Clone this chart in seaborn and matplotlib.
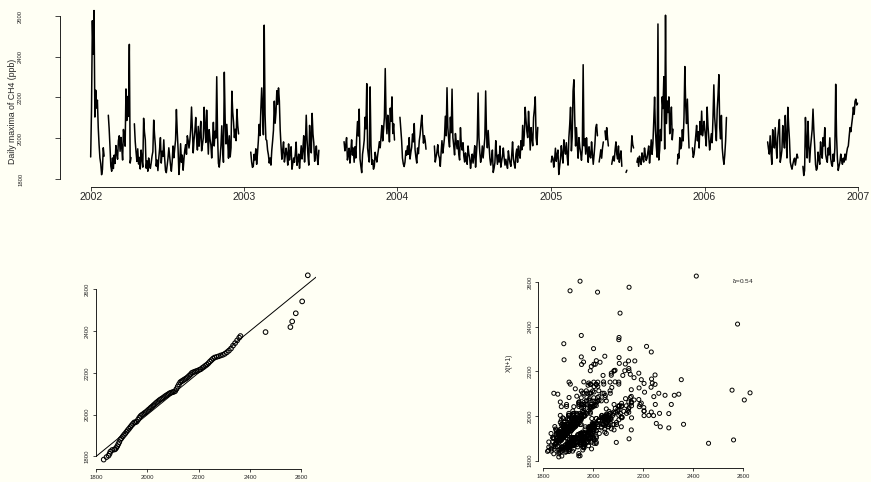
import numpy as np
import pandas as pd
import matplotlib
matplotlib.use("Agg")
import matplotlib.pyplot as plt
import matplotlib.dates as mdates
import seaborn as sns

nan = float("nan")

# Daily maxima of CH4 (ppb), read every 2 days, one list per year (nan = no data)
ch4_2002 = [1908, 2143, 2577, 2412, 2627, 2104, 2236, 2148, 2187, 2052, 1968, 1903, 1874, 1821, 1846,
            1953, 1912, nan, nan, nan, nan, 2113, 2046, 1957, 1862, 1838, 1903,
            1851, 1917, 1876, 1964, 1926, 1897, 1988, 2012, 1936, 2004, 1951, 1893,
            2043, 1998, 1961, 2242, 2087, 2205, 2107, 2461, 1878, 1905, nan, nan,
            nan, 2071, 1984, 1932, 1886, 1948, 1873, 1906, 1849, 1942, 1897, 1858,
            2098, 2031, 1993, 1853, 1889, 1838, 1903, 1867, 1852, 1879, 1912, 1934,
            2089, 2017, 1962, 1863, 1893, 1841, 1902, 1947, 2003, 1878, 1936, 1911,
            1992, 1903, 1842, 1831, 1866, 1902, 1953, 1911, 1868, 1838, 1886, 1962,
            1904, 1949, 1991, 2141, 2032, 1947, 1822, 1884, 1973, 1882, 1917, 1843,
            1898, 1943, 1968, 1921, 2012, 1989, 1952, 1988, 2041, 2153, 2046, 1928,
            1993, 2036, 2102, 2003, 1942, 2058, 1961, 2017, 2083, 1938, 1967, 2002,
            2152, 2058, 1979, 2138, 2024, 1922, 2042, 1996, 1968, 1903, 1985, 2078,
            1962, 2034, 2001, 2302, 2011, 1877, 1858, 1903, 1963, 2061, 1952, 1882,
            2324, 2093, 1972, 2068, 1987, 1902, 2012, 1908, 1953, 2231, 2129, 2078,
            2003, 2044, 1988, 2142, 2063, 2021, nan, nan, nan, nan, nan, nan]
ch4_2003 = [nan, nan, nan, nan, nan, nan, nan, nan, 1932,
            1884, 1857, 1862, 1921, 1893, 1948, 1872, 1926, 1987, 2068, 2013, 2141,
            2247, 2142, 2017, 2555, 2116, 1994, 1989, 1942, 1918, 1878, 1903, 1868,
            1941, 1987, 2039, 2182, 2074, 2128, 2233, 2166, 2247, 2184, 2042, 1962,
            1897, 1943, 1982, 1883, 1912, 1951, 1922, 1868, 1972, 1893, 1931, 1958,
            1848, 1876, 1903, 1882, 1924, 1981, 1867, 1893, 1922, 1852, 1907, 1963,
            1898, 1946, 2012, 1883, 1972, 2113, 1992, 1918, 1868, 2063, 1981, 1928,
            2122, 2021, 1977, 1887, 1924, 1962, 1903, 1871, 1941,
            nan, nan, nan, nan, nan, nan, nan, nan, nan, nan, nan, nan, nan, nan,
            nan, nan, nan, nan, nan, nan, nan, nan, nan, nan, nan, nan, nan,
            nan, nan, 1983, 1938, 1967, 2003, 1893, 1918, 1951, 1878, 1936, 1992,
            1917, 1952, 1882, 1958, 1903, 2002, 2082, 2011, 2143, 1898, 1862, 1831,
            1922, 1953, 1991, 2103, 2046, 2268, 1952, 1913, 1883, 2252, 1967, 1872,
            1893, 1848, 1862, 1931, 1904, 1883, 1918, 1947, 1983, 1953, 2008, 2062,
            1987, 2043, 2102, 2342, 2098, 2022, 2113, 2057, 1982, 2148, 2083, 2203,
            2023, 2071, 1991, nan, nan, nan]
ch4_2004 = [nan, nan, nan, 2103, 2046, 1988, 1902, 1874, 1861, 1883, 1938, 1917,
            1962, 1921, 2003, 1898, 1931, 1957, 2021, 1982, 2072, 1943, 1906, 1878,
            1952, 1924, 1988, 2018, 2067, 2113, 2043, 1976, 2012, 1989, 1946, nan,
            nan, nan, nan, nan, nan, nan, nan, nan, 1962,
            1883, 1908, 1932, 1968, 1917, 1903, 1862, 1931, 1988, 1927, 1963, 2003,
            2108, 2012, 2248, 2052, 1993, 1957, 2103, 2027, 2241, 2002, 1963, 1918,
            2023, 1982, 1948, 1988, 1921, 1893, 2052, 1967, 1942, 1978, 1913, 1883,
            1928, 1896, 1872, 1962, 1923, 1903, 1852, 1888, 1922, 1878, 1917, 1963,
            1858, 1924, 1992, 2222, 2003, 1931, 1882, 1908, 1962, 1903, 1952, 2002,
            2232, 2018, 1953, 2038, 1967, 1902, 1868, 1897, 1942, 1832, 1853, 1881,
            1988, 1922, 1872, 1918, 1883, 1962, 1858, 1887, 1912, 1952, 1902, 1868,
            1897, 1873, 1852, 1938, 1904, 1878, 1862, 1917, 1982, 1898, 1872, 1853,
            1922, 1947, 1882, 1962, 1918, 1902, 1988, 1943, 2063, 1962, 2018, 2152,
            2088, 2034, 2003, 2132, 2046, 1942, 2052, 1998, 1963, 2102, 2143, 2203,
            2002, 1968, 2053,
            nan, nan, nan, nan, nan, nan, nan, nan, nan, nan, nan, nan, nan, nan, nan]
ch4_2005 = [1883, 1912, 1902, 1858, 1893, 1951, 1887, 1918, 1942, 1822, 1861, 1898,
            1963, 1917, 1878, 1992, 1948, 1922, 1978, 1911, 1868, 2003, 2067, 2152,
            1938, 2008, 2232, 2287, 2093, 1962, 2052, 1968, 1902, 2003, 1957, 1928,
            1892, 1952, 2361, 1963, 1998, 1922, 2002, 1937, 1882, 1958, 1912, 1903,
            1982, 1924, 1872, 1918, 1973, 2052, 2068, 2012, nan, 1883, 1911, 1943,
            1902, 1951, 1982, nan, 2036, 1992, 2052, 2003, 1962, nan, nan, nan,
            1872, 1897, 1912, 1888, 1943, 1982, 1921, 1898, 1962, 1882, 1913, 1938,
            1862, nan, nan, nan, nan, 1832, 1843, nan, nan, nan, nan, 1933,
            2012, 1968, 1952, nan, nan, nan, 1882, 1903, 1862, 1912, 1888, 1871,
            1928, 1902, 1883, 1952, 1917, 1891, 1902, 1933, 1962, 1878, 1928, 1992,
            1921, 1974, 2083, 2202, 2038, 1963, 1907, 2561, 1893, 1942, 2043, 1988,
            2203, 2146, 2302, 1947, 2604, 2072, 2183, 2126, 2203, 2022, 2087, 2153,
            1992, 2044, nan, nan, nan, nan, 1873, 1922, 1902, 2003, 1948, 1962,
            2042, 1987, 2103, 2352, 2163, 2072, 2192, 2058, 1952, nan, nan, nan,
            1953, 1906, 1922, 1968, 2014, 2063, 1987, 2032, 1952, 2082, 2018, 2133,
            2012, 2047, 2083]
ch4_2006 = [2052, 2008, 1962, 2153, 2062, 2003, 1942, 1981, 2022, 1978, 2103, 2262,
            2102, 2043, 1988, 2142, 2213, 2312, 2052, 1997, 2112, 1952, 1903, 1872,
            1918, 1986, 2102,
            nan, nan, nan, nan, nan, nan, nan, nan, nan, nan, nan, nan, nan, nan, nan, nan,
            nan, nan, nan, nan, nan, nan, nan, nan, nan, nan, nan, nan, nan, nan, nan, nan,
            nan, nan, nan, nan, nan, nan, nan, nan, nan, nan, nan, nan, nan, nan, nan, nan,
            1982, 1948, 1922, 2012, 1933, 1872, 2042, 1992, 1952, 2052, 1968, 1902,
            2003, 2048, 2092, 1882, 1908, 1942, 2062, 2003, 1952, 2112, 1997, 1903,
            2152, 2063, 1992, 1883, 1862, 1848, 1872, 1891, 1902, 1868, 1897, 1922,
            1903, nan, nan, nan, nan, nan, 1862, 1817, 1842, 2102, 1983, 1903,
            2083, 1962, 1882, 1952, 1998, 2042, 2143, 2038, 1962, 1872, 1843, 1852,
            1932, 1898, 1872, 1982, 1927, 1902, 2003, 1962, 2052, 1922, 1897, 1882,
            1952, 1918, 2002, 1902, 1873, 1862, 1922, 1887, 1952, 2265, 2012, 1902,
            1842, 1863, 1882, 1922, 1891, 1872, 1902, 1883, 1922, 1893, 1928, 1952,
            1962, 2008, 2052, 2032, 2068, 2102, 2152, 2118, 2182, 2192, 2163, 2172]

years = [2002, 2003, 2004, 2005, 2006]
step_days = 2

# QQ plot: empirical quantiles (x) against model quantiles (y)
qq_empirical = [1829, 1840, 1848, 1852, 1855, 1862, 1870, 1874, 1878, 1882,
                1886, 1890, 1894, 1898, 1903, 1908, 1913, 1918, 1923, 1928,
                1933, 1938, 1943, 1948, 1953, 1958, 1963, 1968, 1973, 1978,
                1983, 1988, 1993, 1998, 2003, 2008, 2013, 2018, 2023, 2028,
                2033, 2038, 2043, 2048, 2053, 2058, 2063, 2068, 2073, 2078,
                2083, 2088, 2093, 2098, 2103, 2108, 2113, 2118, 2123, 2128,
                2133, 2138, 2143, 2148, 2153, 2158, 2163, 2168, 2173, 2178,
                2184, 2190, 2196, 2202, 2208, 2214, 2220, 2226, 2232, 2238,
                2244, 2250, 2256, 2262, 2270, 2278, 2286, 2294, 2302, 2310,
                2318, 2326, 2334, 2342, 2350, 2358, 2363,
                2461, 2558, 2565, 2579, 2604, 2626]
qq_model = [1784, 1796, 1803, 1812, 1822, 1830, 1832, 1834, 1840, 1848,
            1858, 1868, 1880, 1886, 1894, 1902, 1909, 1917, 1925, 1932,
            1940, 1948, 1955, 1962, 1963, 1966, 1975, 1985, 1993, 1998,
            2002, 2007, 2011, 2016, 2022, 2027, 2033, 2038, 2044, 2049,
            2055, 2060, 2065, 2070, 2074, 2078, 2082, 2087, 2091, 2095,
            2099, 2103, 2105, 2107, 2109, 2112, 2122, 2134, 2145, 2155,
            2159, 2163, 2167, 2171, 2175, 2180, 2186, 2192, 2199, 2202,
            2205, 2208, 2210, 2214, 2217, 2223, 2228, 2234, 2239, 2246,
            2254, 2261, 2268, 2273, 2276, 2279, 2283, 2286, 2291, 2298,
            2306, 2316, 2330, 2342, 2355, 2368, 2376,
            2395, 2419, 2446, 2485, 2542, 2667]

year_ticks = [2002, 2003, 2004, 2005, 2006, 2007]
value_ticks = [1800, 2000, 2200, 2400, 2600]
alpha_hat = 0.54
ts_ylabel = "Daily maxima of CH4 (ppb)"
sc_ylabel = "X(t+1)"

# ---- build tables ----
rows = []
for yr, vals in zip(years, [ch4_2002, ch4_2003, ch4_2004, ch4_2005, ch4_2006]):
    start = pd.Timestamp(f"{yr}-01-01")
    for i, v in enumerate(vals):
        rows.append((start + pd.Timedelta(days=step_days * i), v))
ts = pd.DataFrame(rows, columns=["date", "ch4"])
ts["segment"] = ts["ch4"].isna().cumsum()
ts_plot = ts.dropna().reset_index(drop=True)

vals = ts["ch4"].to_numpy(dtype=float)
lag = pd.DataFrame({"xt": vals[:-1], "xt1": vals[1:]}).dropna()

qq = pd.DataFrame({"emp": qq_empirical, "model": qq_model})

# ---- styling ----
bg = "#fffff4"
sns.set_style("ticks")
plt.rcParams["font.family"] = ["Liberation Sans", "DejaVu Sans"]
plt.rcParams["axes.linewidth"] = 0.6
plt.rcParams["mathtext.fontset"] = "custom"
plt.rcParams["mathtext.rm"] = "Liberation Sans"
plt.rcParams["mathtext.it"] = "Liberation Sans:italic"

W, H = 871, 482
fig = plt.figure(figsize=(W / 100, H / 100), dpi=100, facecolor=bg)


def style_axes(ax):
    ax.set_facecolor(bg)
    for s in ["top", "right"]:
        ax.spines[s].set_visible(False)
    for s in ["left", "bottom"]:
        ax.spines[s].set_color("black")
        ax.spines[s].set_linewidth(0.6)
    ax.set_xlabel("")
    ax.set_ylabel("")


# ---- top: time series ----
ax_ts = fig.add_axes([60 / W, (H - 186.5) / H, 811 / W, 182.7 / H])
sns.lineplot(data=ts_plot, x="date", y="ch4", units="segment", estimator=None,
             color="black", lw=1.1, ax=ax_ts, legend=False)
style_axes(ax_ts)
ax_ts.set_xlim(pd.Timestamp("2001-10-20"), pd.Timestamp("2007-02-01"))
ax_ts.set_ylim(1763, 2660)
tick_dates = [pd.Timestamp(f"{y}-01-01") for y in year_ticks]
ax_ts.set_xticks(tick_dates)
ax_ts.set_xticklabels([str(y) for y in year_ticks])
ax_ts.set_yticks(value_ticks)
ax_ts.set_yticklabels([str(v) for v in value_ticks])
ax_ts.spines["bottom"].set_bounds(mdates.date2num(tick_dates[0]), mdates.date2num(tick_dates[-1]))
ax_ts.spines["left"].set_bounds(value_ticks[0], value_ticks[-1])
ax_ts.tick_params(axis="x", direction="out", length=3.2, width=0.6, labelsize=7.6, pad=1.0)
ax_ts.tick_params(axis="y", direction="out", length=3.6, width=0.6, labelsize=4.2, pad=23,
                  labelrotation=90)
for lbl in ax_ts.get_yticklabels():
    lbl.set_va("center")
ax_ts.set_ylabel(ts_ylabel, fontsize=6.3)
ax_ts.yaxis.set_label_coords(-0.0536, 0.41)

# ---- bottom left: QQ plot ----
ax_qq = fig.add_axes([95.5 / W, (H - 469) / H, 220.5 / W, 201 / H])
sns.scatterplot(data=qq, x="emp", y="model", ax=ax_qq, marker="o", s=11,
                facecolor="none", edgecolor="black", linewidth=0.75, legend=False)
ax_qq.collections[-1].set_facecolor("none")
ax_qq.axline((1800, 1800), slope=1, color="black", lw=0.7)
style_axes(ax_qq)
ax_qq.set_xlim(1797, 2658)
ax_qq.set_ylim(1739, 2702)
ax_qq.set_xticks(value_ticks)
ax_qq.set_yticks(value_ticks)
ax_qq.spines["left"].set_bounds(value_ticks[0], value_ticks[-1])
ax_qq.spines["bottom"].set_bounds(value_ticks[0], value_ticks[-1])
ax_qq.tick_params(axis="both", direction="out", length=2.2, width=0.6, labelsize=4.3, pad=2)
ax_qq.tick_params(axis="y", labelrotation=90)
for lbl in ax_qq.get_yticklabels():
    lbl.set_va("center")

# ---- bottom right: lag-1 scatter ----
ax_sc = fig.add_axes([538.3 / W, (H - 468.3) / H, 220 / W, 199.6 / H])
sns.scatterplot(data=lag, x="xt", y="xt1", ax=ax_sc, marker="o", s=8.5,
                facecolor="none", edgecolor="black", linewidth=0.7, legend=False)
ax_sc.collections[-1].set_facecolor("none")
style_axes(ax_sc)
ax_sc.set_xlim(1780, 2660)
ax_sc.set_ylim(1766, 2660)
ax_sc.set_xticks(value_ticks)
ax_sc.set_yticks(value_ticks)
ax_sc.spines["left"].set_bounds(value_ticks[0], value_ticks[-1])
ax_sc.spines["bottom"].set_bounds(value_ticks[0], value_ticks[-1])
ax_sc.tick_params(axis="both", direction="out", length=2.2, width=0.6, labelsize=4.3, pad=1.6)
ax_sc.tick_params(axis="y", labelrotation=90)
for lbl in ax_sc.get_yticklabels():
    lbl.set_va("center")
ax_sc.set_ylabel(sc_ylabel, fontsize=4.8)
ax_sc.yaxis.set_label_coords(-0.117, 0.53)
ax_sc.text(2600, 2600, r"$\hat{\alpha}$=" + f"{alpha_hat:.2f}", fontsize=4.6,
           ha="center", va="center", color="#222222")

fig.savefig("out.png", dpi=100, facecolor=bg)
